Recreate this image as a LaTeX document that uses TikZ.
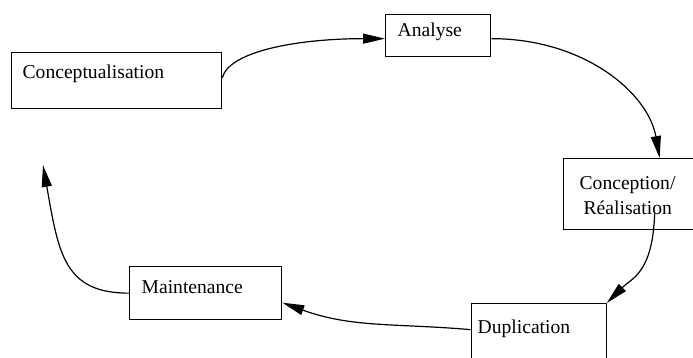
\documentclass[tikz,border=0pt]{standalone}
\usepackage{fontspec}
\setmainfont{Liberation Serif}
\usetikzlibrary{arrows.meta}
\usetikzlibrary{positioning}

\begin{document}
\begin{tikzpicture}[x=1pt, y=1pt,
    phase/.style={draw, line width=1.3pt, anchor=north west, inner ysep=0pt,
      align=left, font=\fontsize{19.6}{25}\selectfont},
    phasearrow/.style={line width=1.2pt, -{Triangle[length=22pt,width=10pt]}}]
  \useasboundingbox (0,0) rectangle (693,358);
  \clip (0,0) rectangle (693,358);

  \node [phase, inner xsep=11pt, text width=188pt, text height=26pt, text depth=30pt] (concept) at (11,306) {Conceptualisation};
  \node [phase, inner xsep=12pt, text width=81pt, text height=22pt, text depth=20pt] (analyse) at (385,344) {Analyse};
  % box runs past the right border
  \node [phase, inner xsep=0pt, text width=137pt, text height=31pt, text depth=40pt] (conc) at (563,200) {\hspace*{16pt}Conception/\\\hspace*{20pt}R\'ealisation};
  \node [phase, inner xsep=6.5pt, text width=122pt, text height=30pt, text depth=35pt] (dup) at (470.5,55) {Duplication};
  \node [phase, inner xsep=12pt, text width=128pt, text height=27pt, text depth=26pt] (maint) at (129,92) {Maintenance};

  \coordinate (reenter) at (43,193);

  \draw [phasearrow] ([yshift=3pt]concept.east) .. controls +(75:28) and +(180:85) .. ([yshift=-3pt]analyse.west);
  \draw [phasearrow] ([yshift=-3pt]analyse.east) .. controls +(0:93) and +(100:66) .. ([xshift=27.5pt]conc.north);
  \draw [phasearrow] ([xshift=22.5pt,yshift=-19.5pt]conc.center) .. controls +(-92:60) and +(45:35) .. (dup.north east);
  \draw [phasearrow] ([yshift=6.5pt]dup.west) to[out=175, in=-20] ([yshift=-9.5pt]maint.east);
  \draw [phasearrow] (maint.west) .. controls +(180:65) and +(-80:90) .. (reenter);
\end{tikzpicture}
\end{document}
